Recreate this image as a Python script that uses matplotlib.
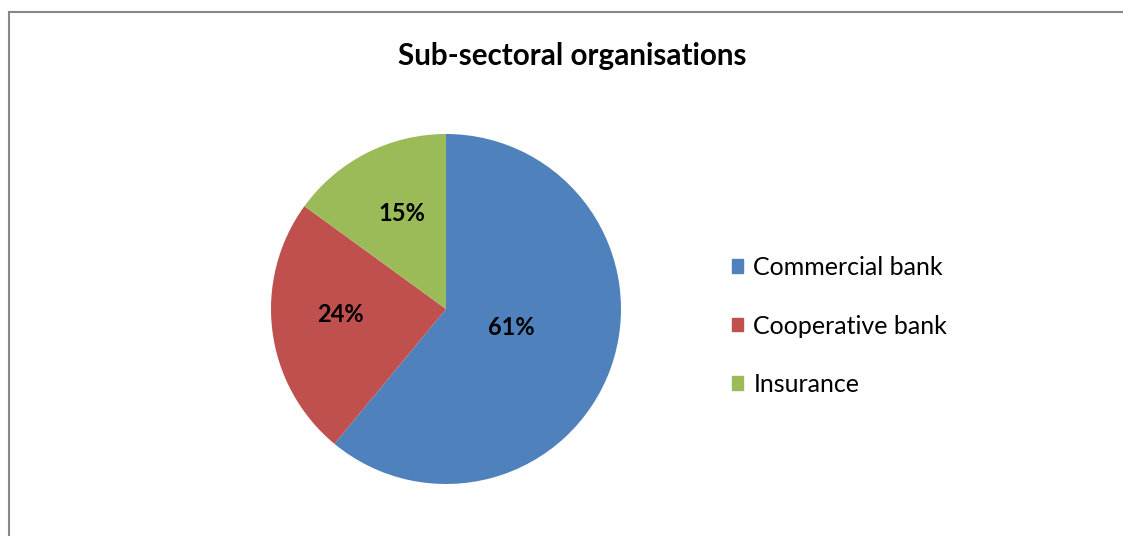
import numpy as np
import matplotlib.pyplot as plt
from matplotlib.patches import Rectangle, Patch

# data
labels = ["Commercial bank", "Cooperative bank", "Insurance"]
shares = [61, 24, 15]
colors = ["#4F81BD", "#C0504D", "#9BBB59"]
# where excel put the % labels: (radius fraction, angle in degrees)
label_polar = [(0.385, -14.0), (0.606, 182.0), (0.61, 114.5)]

plt.rcParams['font.family'] = ['Lato', 'DejaVu Sans']

W, H = 1123, 536
fig = plt.figure(figsize=(W / 100, H / 100), dpi=100)

# grey chart frame (runs off the right and bottom edge like the source)
fig.patches.append(Rectangle((8.5 / W, -0.05), 1.1, 1.05 - 12.5 / H,
                             transform=fig.transFigure, fill=False,
                             edgecolor="#878787", lw=1.5, clip_on=False))

cx, cy, r = 446, 309, 175
ax = fig.add_axes([(cx - r) / W, 1 - (cy + r) / H, 2 * r / W, 2 * r / H])
wedges, texts, autotexts = ax.pie(shares, colors=colors, startangle=90,
                                  counterclock=False, radius=1,
                                  autopct='%d%%', pctdistance=0.6,
                                  textprops=dict(fontsize=17, fontweight='bold'))
for t, (d, a) in zip(autotexts, label_polar):
    a = np.deg2rad(a)
    t.set_position((d * np.cos(a), d * np.sin(a)))
    t.set_va('center_baseline')
ax.set_xlim(-1, 1)
ax.set_ylim(-1, 1)
ax.set_aspect('equal')
ax.axis('off')

fig.text(572 / W, 1 - 54 / H, "Sub-sectoral organisations", ha='center',
         va='center_baseline', fontsize=21.3, fontweight='bold')

handles = [Patch(color=c) for c in colors]
fig.legend(handles, labels, loc='center left',
           bbox_to_anchor=(709 / W, 1 - 326 / H), frameon=False,
           fontsize=18, labelspacing=1.42, handlelength=0.47,
           handleheight=0.47, handletextpad=0.4)

fig.savefig("out.png", dpi=100)
